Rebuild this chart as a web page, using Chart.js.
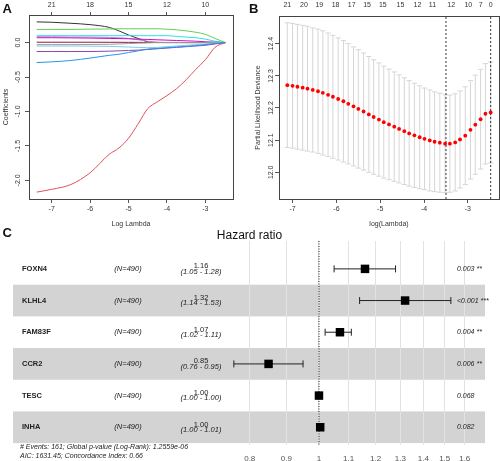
<!DOCTYPE html>
<html>
<head>
<meta charset="utf-8">
<script src="https://cdn.jsdelivr.net/npm/chart.js@4.4.0/dist/chart.umd.min.js"></script>
<style>
  body { margin: 0; background: #fff; width: 500px; height: 461px; position: relative; overflow: hidden;
         font-family: "Liberation Sans", Arial, sans-serif; }
  canvas { position: absolute; }
  .tag { position: absolute; font-weight: bold; font-size: 13px; line-height: 13px; color: #111; }
</style>
</head>
<body>
<canvas id="chartA" width="250" height="232" style="left:0;top:0"></canvas>
<canvas id="chartB" width="250" height="232" style="left:250px;top:0"></canvas>
<canvas id="chartC" width="500" height="235" style="left:0;top:226px"></canvas>
<div class="tag" style="left:2.5px;top:1.5px">A</div>
<div class="tag" style="left:249px;top:2px">B</div>
<div class="tag" style="left:2.5px;top:226px">C</div>
<script>
// ---- panel A: lasso coefficient paths ----
const lambdaA = [-7.39, -7, -6.5, -6, -5.5, -5.25, -5, -4.75, -4.5, -4.25, -4, -3.75, -3.5, -3.25, -3, -2.75, -2.48];
const pathRed     = [-2.17, -2.13, -2.06, -1.89, -1.62, -1.53, -1.39, -1.18, -0.96, -0.86, -0.77, -0.67, -0.54, -0.39, -0.25, -0.07, 0];
const pathBlack   = [0.30, 0.295, 0.28, 0.26, 0.22, 0.17, 0.11, 0.06, 0.01, 0, 0, 0, 0, 0, 0, 0, 0];
const pathGreen   = [0.19, 0.19, 0.19, 0.195, 0.197, 0.2, 0.2, 0.2, 0.2, 0.2, 0.195, 0.185, 0.17, 0.15, 0.12, 0.06, 0];
const pathCyan    = [0.10, 0.10, 0.10, 0.10, 0.10, 0.10, 0.10, 0.10, 0.10, 0.10, 0.10, 0.09, 0.08, 0.07, 0.05, 0.02, 0];
const pathLilac   = [0.085, 0.085, 0.08, 0.08, 0.075, 0.07, 0.06, 0.04, 0.02, 0.005, 0, 0, 0, 0, 0, 0, 0];
const pathMagenta = [0.07, 0.07, 0.068, 0.065, 0.06, 0.058, 0.055, 0.05, 0.045, 0.04, 0.035, 0.03, 0.025, 0.02, 0.012, 0.005, 0];
const pathMaroon  = [0.005, 0.005, 0.005, 0.005, 0.004, 0.004, 0.003, 0.003, 0.002, 0.002, 0.001, 0.001, 0, 0, 0, 0, 0];
const pathGrey    = [-0.03, -0.03, -0.03, -0.028, -0.025, -0.02, -0.015, -0.01, -0.005, 0, 0, 0, 0, 0, 0, 0, 0];
const pathSky     = [-0.05, -0.05, -0.05, -0.052, -0.055, -0.06, -0.065, -0.07, -0.075, -0.07, -0.06, -0.05, -0.04, -0.03, -0.02, -0.01, 0];
const pathPurple  = [-0.13, -0.13, -0.13, -0.13, -0.125, -0.12, -0.115, -0.11, -0.1, -0.09, -0.08, -0.07, -0.06, -0.05, -0.04, -0.02, 0];
const pathBlue    = [-0.29, -0.28, -0.26, -0.225, -0.185, -0.17, -0.145, -0.12, -0.095, -0.085, -0.075, -0.065, -0.055, -0.045, -0.03, -0.015, 0];
const xTicksA = [-7, -6, -5, -4, -3];
const yTicksA = [-2, -1.5, -1, -0.5, 0];
const nzeroA = [21, 18, 15, 12, 10];

// ---- panel B: cross-validation curve ----
const lambdaB = [-7.12, -7.00, -6.89, -6.77, -6.66, -6.54, -6.42, -6.31, -6.19, -6.08,
                 -5.96, -5.84, -5.73, -5.61, -5.50, -5.38, -5.26, -5.15, -5.03, -4.92,
                 -4.80, -4.68, -4.57, -4.45, -4.34, -4.22, -4.10, -3.99, -3.87, -3.76,
                 -3.64, -3.52, -3.41, -3.29, -3.18, -3.06, -2.94, -2.83, -2.71, -2.60, -2.48];
const cvMean = [12.271, 12.269, 12.266, 12.263, 12.260, 12.256, 12.252, 12.247, 12.241, 12.235,
                12.228, 12.221, 12.213, 12.205, 12.197, 12.189, 12.180, 12.172, 12.164, 12.156,
                12.149, 12.142, 12.135, 12.128, 12.121, 12.115, 12.109, 12.104, 12.099, 12.095,
                12.092, 12.089, 12.089, 12.093, 12.102, 12.114, 12.132, 12.148, 12.165, 12.182, 12.186];
const cvSe = [0.194, 0.194, 0.194, 0.194, 0.194, 0.193, 0.193, 0.193, 0.192, 0.191,
              0.190, 0.189, 0.187, 0.185, 0.184, 0.182, 0.180, 0.178, 0.176, 0.174,
              0.172, 0.170, 0.168, 0.166, 0.164, 0.162, 0.160, 0.158, 0.157, 0.155,
              0.154, 0.152, 0.151, 0.151, 0.151, 0.152, 0.153, 0.154, 0.155, 0.156, 0.157];
const lambdaMin = -3.50;
const lambda1se = -2.48;
const xTicksB = [-7, -6, -5, -4, -3];
const yTicksB = [12.0, 12.1, 12.2, 12.3, 12.4];
const lambdaTopB = [-7.12, -6.74, -6.39, -6.02, -5.65, -5.30, -4.94, -4.54, -4.15, -3.81, -3.38, -2.99, -2.71, -2.48];
const nzeroB = [21, 20, 19, 18, 17, 15, 15, 15, 12, 11, 12, 10, 7, 0];

// ---- panel C: forest plot ----
const genes = ['FOXN4', 'KLHL4', 'FAM83F', 'CCR2', 'TESC', 'INHA'];
const nPatients = [490, 490, 490, 490, 490, 490];
const hr = [1.16, 1.32, 1.07, 0.85, 1.00, 1.004];
const ciLow = [1.05, 1.14, 1.02, 0.76, 1.00, 1.00];
const ciHigh = [1.28, 1.53, 1.11, 0.95, 1.00, 1.01];
const pLabels = ['0.003 **', '<0.001 ***', '0.004 **', '0.006 **', '0.068', '0.082'];
const hrTicks = [0.8, 0.9, 1, 1.1, 1.2, 1.3, 1.4, 1.5, 1.6];
const footNotes = ['# Events: 161; Global p-value (Log-Rank): 1.2559e-06', 'AIC: 1631.45; Concordance Index: 0.66'];

const FAMILY = '"Liberation Sans", Arial, sans-serif';
const rFont = { family: FAMILY, size: 7 };
Chart.defaults.font.family = FAMILY;

// pin an axis to a fixed size, and stop edge labels from shrinking the plot
function fixSize(w, h) {
    return s => {
        if (w != null) s.width = w;
        if (h != null) { s.height = h; s.paddingLeft = 0; s.paddingRight = 0; }
    };
}
function fixTicks(values) {
    return s => { s.ticks = values.map(v => ({ value: v })); };
}

const boxPlugin = {
    id: 'box',
    afterDraw(chart) {
        const { ctx, chartArea: a } = chart;
        ctx.save();
        ctx.strokeStyle = '#444';
        ctx.lineWidth = 1;
        ctx.strokeRect(Math.round(a.left) + 0.5, Math.round(a.top) + 0.5,
                       Math.round(a.right - a.left), Math.round(a.bottom - a.top));
        ctx.restore();
    }
};

function rAxisX(min, max, ticks, height, title) {
    return {
        type: 'linear', position: 'bottom', min, max, offset: false,
        afterBuildTicks: fixTicks(ticks), afterFit: fixSize(null, height),
        grid: { drawOnChartArea: false, drawTicks: true, tickLength: 4, color: '#555', offset: false },
        border: { display: false },
        ticks: { font: rFont, color: '#333', padding: 2, maxRotation: 0, autoSkip: false },
        title: { display: true, text: title, font: rFont, color: '#333', padding: { top: 4 } }
    };
}

// panel A
const coefSeries = [
    { data: pathBlue, color: '#2297E6' },
    { data: pathPurple, color: '#8E44AD' },
    { data: pathSky, color: '#7FC8F0' },
    { data: pathGrey, color: '#9E9E9E' },
    { data: pathMaroon, color: '#8B1A3A' },
    { data: pathMagenta, color: '#CD0BBC' },
    { data: pathLilac, color: '#B68CE8' },
    { data: pathCyan, color: '#28E2E5' },
    { data: pathGreen, color: '#61D04F' },
    { data: pathBlack, color: '#333333' },
    { data: pathRed, color: '#E0505A' }
];

new Chart(document.getElementById('chartA'), {
    type: 'line',
    data: {
        datasets: coefSeries.map(s => ({
            data: s.data.map((v, i) => ({ x: lambdaA[i], y: v })),
            borderColor: s.color, borderWidth: 1, pointRadius: 0,
            cubicInterpolationMode: 'monotone'
        }))
    },
    options: {
        responsive: false, animation: false, events: [],
        layout: { autoPadding: false, padding: { right: 17 } },
        plugins: { legend: { display: false }, tooltip: { enabled: false } },
        scales: {
            x: rAxisX(-7.59, -2.28, xTicksA, 33, 'Log Lambda'),
            x2: {
                type: 'linear', axis: 'x', position: 'top', min: -7.59, max: -2.28,
                afterBuildTicks: fixTicks(xTicksA), afterFit: fixSize(null, 15),
                grid: { drawOnChartArea: false, drawTicks: true, tickLength: 3, color: '#555' },
                border: { display: false },
                ticks: { font: rFont, color: '#333', padding: 3, maxRotation: 0, autoSkip: false,
                         callback: (v, i) => nzeroA[i] }
            },
            y: {
                type: 'linear', min: -2.27, max: 0.4,
                afterBuildTicks: fixTicks(yTicksA), afterFit: fixSize(29, null),
                grid: { drawOnChartArea: false, drawTicks: true, tickLength: 4, color: '#555' },
                border: { display: false },
                ticks: { font: rFont, color: '#333', minRotation: 90, maxRotation: 90, crossAlign: 'center',
                         padding: 1, callback: v => v.toFixed(1) },
                title: { display: true, text: 'Coefficients', font: rFont, color: '#333', padding: { top: 2 } }
            }
        }
    },
    plugins: [boxPlugin]
});

// panel B
const errLine = '#d6d6d6';
new Chart(document.getElementById('chartB'), {
    type: 'scatter',
    data: {
        datasets: [
            { type: 'scatter', data: cvMean.map((v, i) => ({ x: lambdaB[i], y: v })),
              pointRadius: 1.9, pointBackgroundColor: '#FF0000', pointBorderWidth: 0 },
            { type: 'line', data: [{ x: lambdaMin, y: 11.917 }, { x: lambdaMin, y: 12.486 }],
              borderColor: '#333', borderWidth: 1, borderDash: [2, 2], pointRadius: 0 },
            { type: 'line', data: [{ x: lambda1se, y: 11.917 }, { x: lambda1se, y: 12.486 }],
              borderColor: '#333', borderWidth: 1, borderDash: [2, 2], pointRadius: 0 },
            { type: 'scatter', data: cvMean.map((v, i) => ({ x: lambdaB[i], y: v + cvSe[i] })),
              pointStyle: 'line', pointRadius: 2.6, pointBorderColor: errLine, pointBorderWidth: 1 },
            { type: 'scatter', data: cvMean.map((v, i) => ({ x: lambdaB[i], y: v - cvSe[i] })),
              pointStyle: 'line', pointRadius: 2.6, pointBorderColor: errLine, pointBorderWidth: 1 },
            { type: 'bar', data: cvMean.map((v, i) => ({ x: lambdaB[i], y: [v - cvSe[i], v + cvSe[i]] })),
              backgroundColor: errLine, borderWidth: 0, barThickness: 1, inflateAmount: 0, grouped: false }
        ]
    },
    options: {
        responsive: false, animation: false, events: [],
        layout: { autoPadding: false, padding: { right: 1 } },
        plugins: { legend: { display: false }, tooltip: { enabled: false } },
        scales: {
            x: rAxisX(-7.31, -2.29, xTicksB, 33, 'log(Lambda)'),
            x2: {
                type: 'linear', axis: 'x', position: 'top', min: -7.31, max: -2.29, offset: false,
                afterBuildTicks: fixTicks(lambdaTopB), afterFit: fixSize(null, 16),
                grid: { display: true, drawOnChartArea: false, drawTicks: false, offset: false },
                border: { display: false },
                ticks: { display: true, font: rFont, color: '#333', padding: 7, maxRotation: 0, autoSkip: false,
                         callback: (v, i) => String(nzeroB[i]) }
            },
            y: {
                type: 'linear', min: 11.917, max: 12.486,
                afterBuildTicks: fixTicks(yTicksB), afterFit: fixSize(29, null),
                grid: { drawOnChartArea: false, drawTicks: true, tickLength: 4, color: '#555' },
                border: { display: false },
                ticks: { font: rFont, color: '#333', minRotation: 90, maxRotation: 90, crossAlign: 'center',
                         padding: -3, callback: v => v.toFixed(1) },
                title: { display: true, text: 'Partial Likelihood Deviance', font: rFont, color: '#333',
                         padding: { top: 3.5 } }
            }
        }
    },
    plugins: [boxPlugin]
});

// panel C
const yMinC = -0.88, yMaxC = 5.56;
const forestPlugin = {
    id: 'forest',
    beforeDraw(chart) {
        const { ctx } = chart;
        const y = chart.scales.y;
        ctx.save();
        ctx.fillStyle = '#d3d3d3';
        genes.forEach((g, i) => {
            if (i % 2 === 1) {
                const y0 = y.getPixelForValue(i - 0.5), y1 = y.getPixelForValue(i + 0.5);
                ctx.fillRect(13, y0, 472, y1 - y0);
            }
        });
        ctx.restore();
    },
    afterDraw(chart) {
        const { ctx } = chart;
        const y = chart.scales.y;
        ctx.save();
        ctx.fillStyle = '#111';
        ctx.textBaseline = 'middle';
        ctx.textAlign = 'center';
        ctx.font = `12px ${FAMILY}`;
        ctx.fillText('Hazard ratio', 249.5, 10);
        ctx.fillStyle = '#222';
        genes.forEach((g, i) => {
            const py = y.getPixelForValue(i);
            ctx.textAlign = 'left';
            ctx.font = `bold 7.5px ${FAMILY}`;
            ctx.fillText(g, 22, py);
            ctx.textAlign = 'center';
            ctx.font = `italic 7.5px ${FAMILY}`;
            ctx.fillText(`(N=${nPatients[i]})`, 128, py);
            ctx.font = `7.5px ${FAMILY}`;
            ctx.fillText(hr[i].toFixed(2), 201, py - 2.5);
            ctx.font = `italic 7.5px ${FAMILY}`;
            ctx.fillText(`(${ciLow[i].toFixed(2)} - ${ciHigh[i].toFixed(2)})`, 201, py + 2.8);
            ctx.textAlign = 'left';
            ctx.font = `italic 7px ${FAMILY}`;
            ctx.fillText(pLabels[i], 457, py);
        });
        ctx.font = `italic 7px ${FAMILY}`;
        ctx.fillText(footNotes[0], 20, 221);
        ctx.fillText(footNotes[1], 20, 230);
        ctx.restore();
    }
};

new Chart(document.getElementById('chartC'), {
    type: 'scatter',
    data: {
        datasets: [
            { type: 'scatter', data: hr.map((v, i) => ({ x: v, y: i })),
              pointStyle: 'rect', pointRadius: 6, pointBackgroundColor: '#000', pointBorderWidth: 0 },
            ...ciLow.map((lo, i) => ({
                type: 'line', data: [{ x: lo, y: i }, { x: ciHigh[i], y: i }],
                borderColor: '#222', borderWidth: 1,
                pointStyle: 'line', pointRotation: 90, pointRadius: 3.5,
                pointBorderColor: '#222', pointBorderWidth: 1
            })),
            { type: 'line', data: [{ x: 1, y: yMinC }, { x: 1, y: yMaxC }],
              borderColor: '#222', borderWidth: 1, borderDash: [1, 1.5], pointRadius: 0 }
        ]
    },
    options: {
        responsive: false, animation: false, events: [],
        layout: { autoPadding: false, padding: { left: 226, right: 15, top: 15 } },
        plugins: { legend: { display: false }, tooltip: { enabled: false } },
        scales: {
            x: {
                type: 'logarithmic', bounds: 'data', min: 0.741, max: 1.708,
                afterBuildTicks: fixTicks(hrTicks), afterFit: fixSize(null, 16),
                grid: { color: '#e2e2e2', drawTicks: false },
                border: { display: false },
                ticks: { font: { family: FAMILY, size: 8 }, color: '#555', padding: 9,
                         maxRotation: 0, autoSkip: false, callback: v => String(v) }
            },
            y: { type: 'linear', reverse: true, min: yMinC, max: yMaxC, display: false }
        }
    },
    plugins: [forestPlugin]
});
</script>
</body>
</html>
